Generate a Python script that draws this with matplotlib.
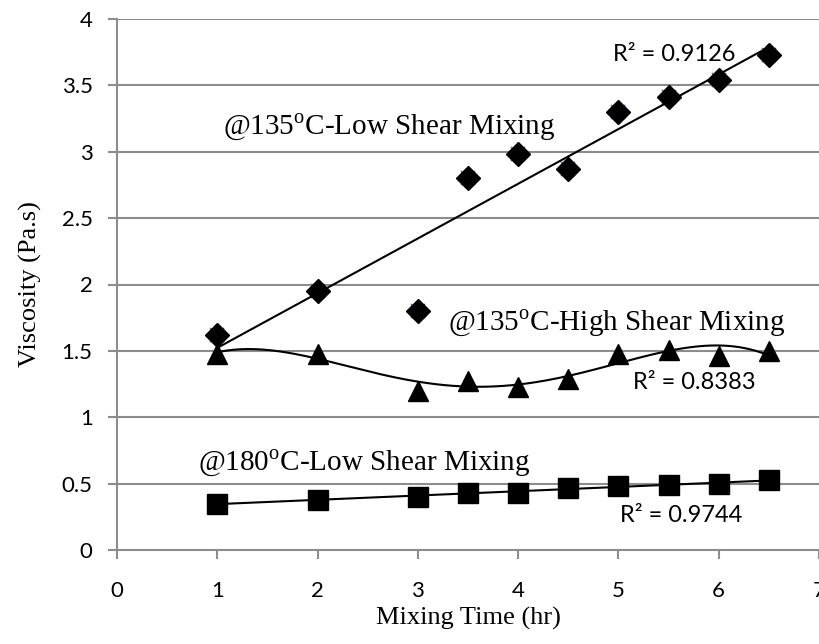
"""
Viscosity vs mixing time, three mixing conditions with trendlines
"""

import matplotlib.pyplot as plt
import numpy as np

# data
mix_time = [1, 2, 3, 3.5, 4, 4.5, 5, 5.5, 6, 6.5]
low_shear_135 = [1.62, 1.95, 1.80, 2.80, 2.98, 2.87, 3.30, 3.41, 3.54, 3.73]
high_shear_135 = [1.48, 1.48, 1.20, 1.27, 1.23, 1.29, 1.48, 1.51, 1.46, 1.50]
low_shear_180 = [0.35, 0.38, 0.40, 0.43, 0.43, 0.47, 0.48, 0.49, 0.50, 0.53]

r2_labels = ['R² = 0.9126', 'R² = 0.8383', 'R² = 0.9744']
series_labels = ['@135$^\\mathregular{o}$C-Low Shear Mixing',
                 '@135$^\\mathregular{o}$C-High Shear Mixing',
                 '@180$^\\mathregular{o}$C-Low Shear Mixing']

x = np.array(mix_time)
xs = np.linspace(1, 6.5, 200)

fig = plt.figure(figsize=(8.2, 6.44), dpi=100)
# plot area: x from px 117 to ~819, y from px 550 (0) to 19 (4)
ax = fig.add_axes([117 / 820, 94 / 644, 702 / 820, 531 / 644])

grid_c = '#8c8c8c'
for yv in np.arange(0.5, 4.01, 0.5):
    ax.axhline(yv, color=grid_c, linewidth=1.5, zorder=0)

# 135C low shear: diamonds, purple crosses behind, linear trend
ax.plot(x, low_shear_135, 'x', color='#7b5fa8', markersize=10, mew=1.2, zorder=2)
ax.plot(x, low_shear_135, 'D', color='black', markersize=12, zorder=3)
p1 = np.polyfit(x, low_shear_135, 1)
ax.plot(xs, np.polyval(p1, xs), color='black', linewidth=1.5, zorder=3)

# 135C high shear: triangles, 4th order polynomial trend
ax.plot(x, high_shear_135, '^', color='black', markersize=15, zorder=3)
p2 = np.polyfit(x, high_shear_135, 4)
ax.plot(xs, np.polyval(p2, xs), color='black', linewidth=1.5, zorder=3)

# 180C low shear: squares, linear trend
ax.plot(x, low_shear_180, 's', color='black', markersize=14, zorder=3)
p3 = np.polyfit(x, low_shear_180, 1)
ax.plot(xs, np.polyval(p3, xs), color='black', linewidth=1.5, zorder=3)

ax.set_xlim(0, 7)
ax.set_ylim(0, 4)
ax.set_xticks(range(0, 8))
ax.set_yticks(np.arange(0, 4.01, 0.5))
ax.set_yticklabels(['0', '0.5', '1', '1.5', '2', '2.5', '3', '3.5', '4'])

for side in ['top', 'right']:
    ax.spines[side].set_visible(False)
for side in ['left', 'bottom']:
    ax.spines[side].set_color(grid_c)
    ax.spines[side].set_linewidth(1.5)

ax.tick_params(axis='both', colors=grid_c, length=6.5, width=1.5, labelcolor='black',
               labelsize=16)
ax.tick_params(axis='x', pad=16)
ax.tick_params(axis='y', pad=11)
for lab in ax.get_xticklabels() + ax.get_yticklabels():
    lab.set_family('Lato')

ax.set_xlabel('Mixing Time (hr)', family='Liberation Serif', fontsize=19, labelpad=4)
ax.set_ylabel('Viscosity (Pa.s)', family='Liberation Serif', fontsize=19, labelpad=14)

# R² annotations
ax.text(5.56, 3.73, r2_labels[0], family='Lato', fontsize=17, ha='center', va='center')
ax.text(5.76, 1.26, r2_labels[1], family='Lato', fontsize=17, ha='center', va='center')
ax.text(5.63, 0.26, r2_labels[2], family='Lato', fontsize=17, ha='center', va='center')

# series labels
ax.text(1.06, 3.19, series_labels[0], family='Liberation Serif', fontsize=21, va='center')
ax.text(3.30, 1.71, series_labels[1], family='Liberation Serif', fontsize=21, va='center')
ax.text(0.81, 0.655, series_labels[2], family='Liberation Serif', fontsize=21, va='center')

plt.savefig('out.png', dpi=100)
